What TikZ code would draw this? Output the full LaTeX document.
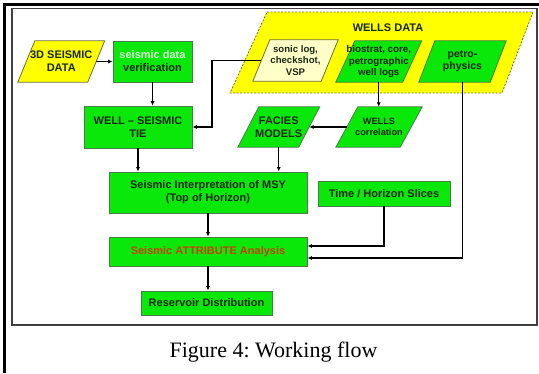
\documentclass[tikz,border=0pt]{standalone}
\usepackage{fontspec}
\setmainfont{Liberation Serif}
\setsansfont{Liberation Sans}
\usetikzlibrary{calc,arrows.meta}
\pgfdeclarelayer{background}
\pgfsetlayers{background,main}
\frenchspacing
\definecolor{boxgreen}{RGB}{10,232,10}
\definecolor{boxedge}{RGB}{70,125,70}
\definecolor{wellyellow}{RGB}{255,255,0}
\definecolor{paleyellow}{RGB}{255,255,200}
\definecolor{boxtext}{RGB}{25,40,20}
\definecolor{attrred}{RGB}{205,60,0}
\definecolor{paletext}{RGB}{215,255,215}
\definecolor{dashedge}{RGB}{110,110,60}
\newcommand\slantfill[3]{%
  \begin{pgfonlayer}{background}
  \filldraw[#3] ($(#1.north west)+(#2,0)$) -- ($(#1.north east)+(#2,0)$) -- ($(#1.south east)-(#2,0)$) -- ($(#1.south west)-(#2,0)$) -- cycle;
  \end{pgfonlayer}}
\tikzset{
  bfont/.style={font=\sffamily\bfseries\fontsize{11pt}{13pt}\selectfont},
  box/.style={draw=boxedge, line width=0.8pt, fill=boxgreen, inner sep=0pt, align=center, bfont, text=boxtext},
  ptext/.style={inner sep=0pt, align=center, bfont, text=boxtext},
  pgreen/.style={fill=boxgreen, draw=boxedge, line width=0.8pt},
  conn/.style={-{Latex[length=4.5pt,width=4pt]}, line width=1.2pt, black},
}
\begin{document}
\begin{tikzpicture}[x=1pt,y=-1pt]
\useasboundingbox (0,0) rectangle (539,373);
\begin{pgfonlayer}{background}
\fill[white] (0,0) rectangle (539,373);
\filldraw[fill=wellyellow, draw=dashedge, line width=0.8pt, dash pattern=on 2pt off 1.5pt] (267,12) -- (533,12) -- (502,93) -- (230,93) -- cycle;
\end{pgfonlayer}
% frames
\draw[line width=2.5pt] (4.5,373) -- (4.5,4.5) -- (539,4.5);
\draw[line width=1.3pt, black!75] (12,8.5) rectangle (537,325);
% nodes
\node[ptext, minimum width=69.5pt, minimum height=41pt] (seis) at (61.25,61.5) {3D SEISMIC\\DATA};
\slantfill{seis}{8.5}{fill=wellyellow, draw=dashedge, line width=0.8pt}
\node[box, minimum width=79pt, minimum height=41pt] (verif) at (152.5,61.5) {\textcolor{paletext}{seismic data}\\verification};
\node[box, minimum width=108pt, minimum height=42pt] (tie) at (138,127) {WELL – SEISMIC\\TIE};
\node[box, minimum width=198pt, minimum height=41pt] (interp) at (208,192.5) {Seismic Interpretation of MSY\\(Top of Horizon)};
\node[box, minimum width=198pt, minimum height=29pt, text=attrred] (attr) at (208,251.5) {Seismic ATTRIBUTE Analysis};
\node[box, minimum width=131pt, minimum height=24pt] (resv) at (206.5,303) {Reservoir Distribution};
\node[box, minimum width=132pt, minimum height=25pt] (slices) at (384,193.5) {Time / Horizon Slices};
\node[ptext] (wtitle) at (388,28) {WELLS DATA};
\node[ptext, minimum width=68pt, minimum height=41pt, font=\sffamily\bfseries\fontsize{9.6pt}{11.5pt}\selectfont] (sonic) at (295.5,60.5) {sonic log,\\checkshot,\\VSP};
\slantfill{sonic}{8.5}{fill=paleyellow, draw=dashedge, line width=0.8pt}
\node[ptext, minimum width=66.5pt, minimum height=41pt, font=\sffamily\bfseries\fontsize{9.8pt}{11.5pt}\selectfont] (bio) at (378.75,61.5) {biostrat, core,\\petrographic\\well logs};
\slantfill{bio}{9.5}{pgreen}
\node[ptext, minimum width=71pt, minimum height=41pt, font=\sffamily\bfseries\fontsize{10.5pt}{12pt}\selectfont] (petro) at (462.5,61.5) {petro-\\physics};
\slantfill{petro}{8}{pgreen}
\node[ptext, minimum width=64pt, minimum height=40pt, font=\sffamily\bfseries\fontsize{9.2pt}{11.5pt}\selectfont] (wcorr) at (379,127) {WELLS\\correlation};
\slantfill{wcorr}{11}{pgreen}
\node[ptext, minimum width=60.5pt, minimum height=40pt] (facies) at (278.75,127) {FACIES\\MODELS};
\slantfill{facies}{10.5}{pgreen}
\node[font=\rmfamily\fontsize{22pt}{26pt}\selectfont, anchor=base, inner sep=0pt] (cap) at (273.5,357) {Figure 4: Working flow};
% connectors
\draw[conn] (seis.east) -- (verif.west);
\draw[conn] (verif.south) -- (verif.south |- tie.north);
\coordinate (turn) at (212,127);
\draw[conn] (sonic.west) -| (turn) -- (tie.east);
\draw[conn] (tie.south) -- (tie.south |- interp.north);
\draw[conn] (bio.south) -- (bio.south |- wcorr.north);
\draw[conn] (wcorr.west) -- (facies.east);
\draw[conn] (facies.south) -- (facies.south |- interp.north);
\draw[conn] (interp.south) -- (attr.north);
\draw[conn] (attr.south) -- (attr.south |- resv.north);
\coordinate (ain1) at ($(attr.east)+(0,-5.5)$);
\coordinate (ain2) at ($(attr.east)+(0,6.5)$);
\draw[conn] (slices.south) |- (ain1);
\draw[conn] (petro.south) |- (ain2);
\end{tikzpicture}
\end{document}
